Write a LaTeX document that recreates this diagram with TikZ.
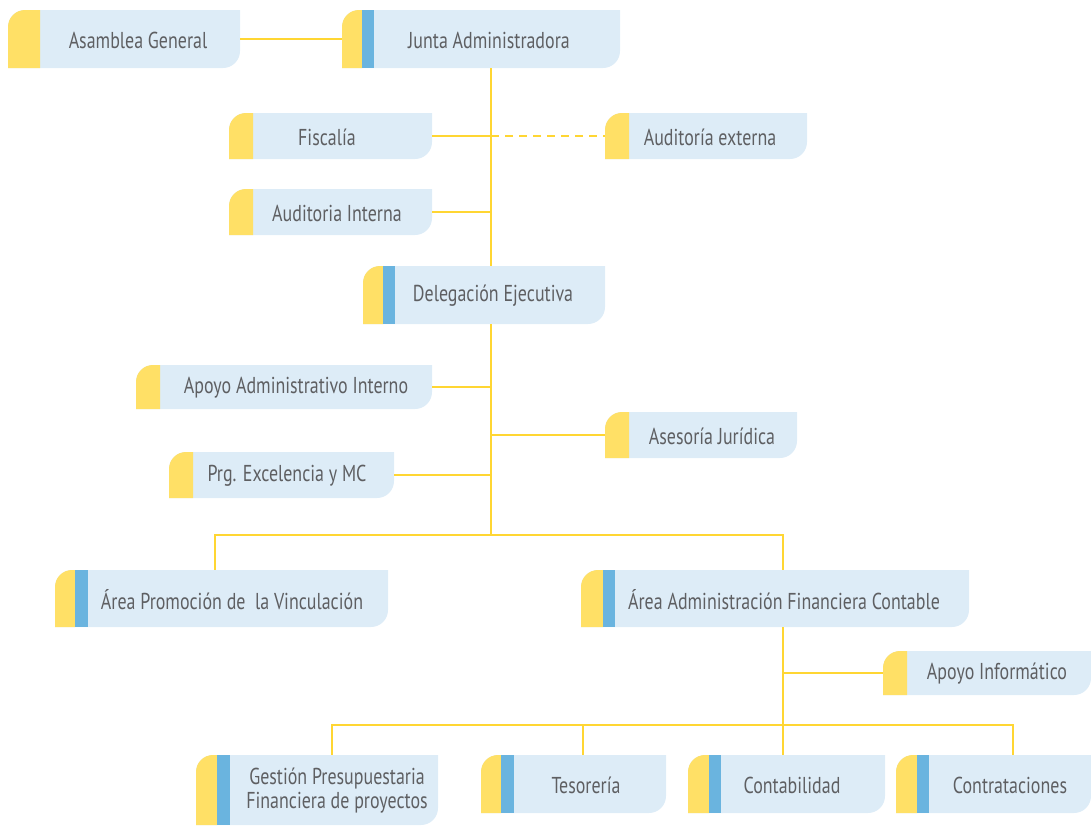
\documentclass[tikz,border=0pt]{standalone}
\usepackage{fontspec}
\setmainfont{PT Sans}[FakeStretch=0.78]
\definecolor{boxblue}{HTML}{DDECF7}
\definecolor{stripyellow}{HTML}{FFE066}
\definecolor{stripblue}{HTML}{6AB4DF}
\definecolor{linecol}{HTML}{FFD633}
\definecolor{textgray}{HTML}{5E5F62}
\tikzset{
  boxarea/.style={draw=none,fill=none,inner sep=0pt,rectangle},
  boxtxt/.style={text=textgray,font=\fontsize{23}{26}\selectfont,inner sep=0pt,align=center},
  conn/.style={draw=linecol,line width=2pt},
  dconn/.style={conn,dash pattern=on 8pt off 6pt},
}
% name, l, t, r, b, yellow end, blue end (0 = none), text x, text
\newcommand\orgbox[9]{%
  \node[boxarea,minimum width={((#4)-(#2))*1pt},minimum height={((#5)-(#3))*1pt}] (#1) at ({((#2)+(#4))/2},{((#3)+(#5))/2}) {};
  \fill[boxblue] (#2,#5) -- (#2,#3+17) .. controls (#2,#3+7.6) and (#2+7.6,#3) .. (#2+17,#3) -- (#4,#3) -- (#4,#5-17) .. controls (#4,#5-7.6) and (#4-7.6,#5) .. (#4-17,#5) -- cycle;
  \fill[stripyellow] (#2,#5) -- (#2,#3+17) .. controls (#2,#3+7.6) and (#2+7.6,#3) .. (#2+17,#3) -- (#6,#3) -- (#6,#5) -- cycle;
  \ifdim #7pt>0pt \fill[stripblue] (#6,#3) rectangle (#7,#5);\fi
  \node[boxtxt] (#1-t) at ({#8},{((#3)+(#5))/2+1}) {#9};
}
\begin{document}
\begin{tikzpicture}[x=1pt,y=-1pt]
\useasboundingbox (0,0) rectangle (1091,825);
\orgbox{asam}{8}{10}{240}{68}{40}{0}{138}{Asamblea General}
\orgbox{junta}{342}{10}{620}{68}{362}{374}{489}{Junta Administradora}
\orgbox{fisc}{229}{113}{432}{159}{253}{0}{327}{Fiscalía}
\orgbox{audext}{605}{113}{807}{159}{629}{0}{710}{Auditoría externa}
\orgbox{audint}{229}{189}{432}{235}{253}{0}{337}{Auditoria Interna}
\orgbox{deleg}{363}{266}{605}{324}{383}{395}{493}{Delegación Ejecutiva}
\orgbox{apoyo}{136}{365}{432}{409}{160}{0}{296}{Apoyo Administrativo Interno}
\orgbox{ases}{605}{412}{797}{458}{629}{0}{712}{Asesoría Jurídica}
\orgbox{prg}{169}{452}{394}{498}{193}{0}{287}{Prg. Excelencia y MC}
\orgbox{promo}{55}{570}{388}{627}{75}{88}{232}{Área Promoción de~ la Vinculación}
\orgbox{admin}{581}{570}{969}{627}{603}{615}{784}{Área Administración Financiera Contable}
\orgbox{info}{883}{651}{1091}{695}{907}{0}{997}{Apoyo Informático}
\orgbox{gest}{196}{755}{438}{825}{217}{230}{337}{Gestión Presupuestaria\\[-2pt]Financiera de proyectos}
\orgbox{teso}{481}{755}{666}{813}{501}{514}{586}{Tesorería}
\orgbox{conta}{688}{755}{885}{813}{709}{721}{792}{Contabilidad}
\orgbox{contr}{896}{755}{1091}{813}{917}{929}{1010}{Contrataciones}
% connectors
\coordinate (trunk) at (491,0);
\coordinate (h1) at (491,535);
\coordinate (h3) at (783,725);
\draw[conn] (asam.east) -- (junta.west);
\draw[conn] (junta.south -| trunk) -- (deleg.north -| trunk);
\draw[conn] (fisc.east) -- (fisc.east -| trunk);
\draw[dconn] (fisc.east -| trunk) -- (audext.west);
\draw[conn] (audint.east) -- (audint.east -| trunk);
\draw[conn] (deleg.south -| trunk) -- (h1);
\draw[conn] (apoyo.east) -- (apoyo.east -| trunk);
\draw[conn] (ases.west -| trunk) -- (ases.west);
\draw[conn] (prg.east) -- (prg.east -| trunk);
\draw[conn] (promo.north -| 215,0) -- (h1 -| 215,0) -- (h1 -| 783,0) -- (admin.north -| 783,0);
\draw[conn] (admin.south -| h3) -- (h3);
\draw[conn] (info.west -| h3) -- (info.west);
\draw[conn] (gest.north -| 332,0) -- (h3 -| 332,0) -- (h3 -| 1013,0) -- (contr.north -| 1013,0);
\draw[conn] (teso.north -| 583,0) -- (h3 -| 583,0);
\draw[conn] (h3) -- (conta.north -| h3);
\end{tikzpicture}
\end{document}
